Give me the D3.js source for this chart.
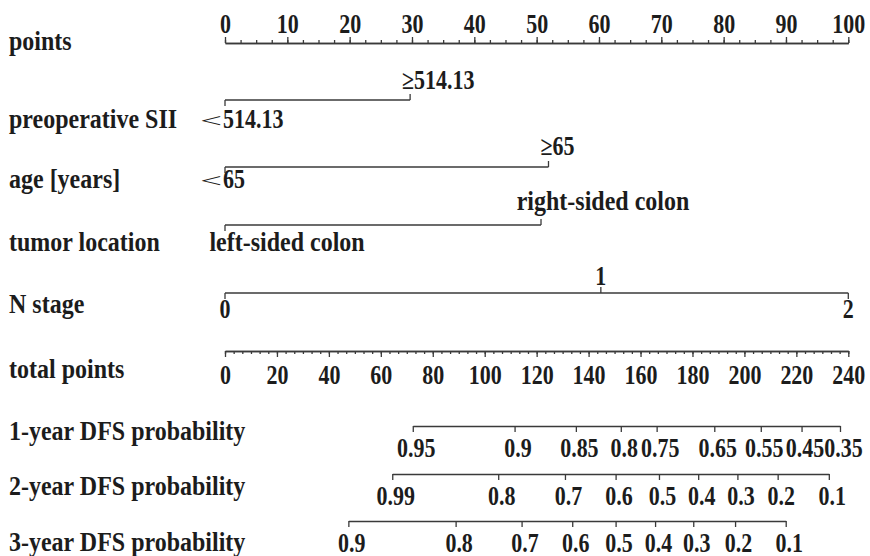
<!DOCTYPE html>
<html>
<head>
<meta charset="utf-8">
<script src="https://cdn.jsdelivr.net/npm/d3@7"></script>
<style>
  html, body { margin: 0; padding: 0; background: #fff; }
  svg text { font-family: "Liberation Serif", "Times New Roman", serif; font-weight: bold; fill: #1c1c1c; }
</style>
</head>
<body>
<svg id="chart" width="870" height="556"></svg>
<script>
// ---- nomogram data ----
const rowLabels = ["points", "preoperative SII", "age [years]", "tumor location", "N stage",
                   "total points", "1-year DFS probability", "2-year DFS probability", "3-year DFS probability"];

const pointsTicks = d3.range(0, 101, 10);
const pointsMinor = d3.range(0, 100.01, 2.5);
const totalTicks = d3.range(0, 241, 20);
const totalMinor = d3.range(0, 240.01, 20 / 6);

const siiLevels = ["<514.13", "≥514.13"];
const siiPoints = [0, 29.7];
const ageLevels = ["<65", "≥65"];
const agePoints = [0, 51.9];
const locLevels = ["left-sided colon", "right-sided colon"];
const locPoints = [0, 50.7];
const nLevels = ["0", "1", "2"];
const nPoints = [0, 60.3, 100];

const dfs1Probs = ["0.95", "0.9", "0.85", "0.8", "0.75", "0.65", "0.55", "0.45", "0.35"];
const dfs1Total = [72.3, 111.5, 135.1, 152.4, 166.2, 188.4, 206.3, 222.0, 236.8];
const dfs2Probs = ["0.99", "0.8", "0.7", "0.6", "0.5", "0.4", "0.3", "0.2", "0.1"];
const dfs2Total = [64.4, 105.2, 130.9, 150.4, 167.1, 182.2, 197.3, 212.8, 232.5];
const dfs3Probs = ["0.9", "0.8", "0.7", "0.6", "0.5", "0.4", "0.3", "0.2", "0.1"];
const dfs3Total = [47.5, 88.8, 114.2, 133.7, 150.4, 165.6, 180.3, 196.4, 215.9];

// ---- layout ----
const svg = d3.select("#chart");
const left = 225, right = 848.3;
const xPts = d3.scaleLinear().domain([0, 100]).range([left, right]);
const xTot = d3.scaleLinear().domain([0, 240]).range([left, right]);
const lineColor = "#3a3a3a";
const numSize = 22, wordSize = 24;
const stretch = 1.12;     // word glyphs are drawn slightly taller than wide
const numStretch = 1.2;   // numerals a little more so

// place a text element at (x, baseline) with a scale
function place(t, x, y, ky, kx = 1) {
  t.attr("x", null).attr("y", null).attr("dy", null)
    .attr("transform", `translate(${x},${y}) scale(${kx},${ky})`);
}

// row label column
const labelBaselines = [50, 128, 188, 251, 313, 378, 440, 495, 551];
svg.append("g").selectAll("text").data(rowLabels).join("text")
  .style("font-size", wordSize + "px")
  .text(d => d)
  .each(function (d, i) { place(d3.select(this), 9, labelBaselines[i], stretch); });

function styleAxis(g, baseline) {
  g.select(".domain").attr("stroke", lineColor).attr("stroke-width", 1.5);
  g.selectAll(".tick line").attr("stroke", lineColor).attr("stroke-width", 1.3);
  g.selectAll(".tick text")
    .style("font-family", "'Liberation Serif', 'Times New Roman', serif")
    .style("font-weight", "bold").style("font-size", numSize + "px").attr("fill", "#1c1c1c")
    .each(function () { place(d3.select(this), 0, baseline, numStretch); });
}

// scale axes: points (ticks and labels above) and total points (below)
function scaleAxis(y, scale, major, minor, orient, labelOffset) {
  const mk = orient === "top" ? d3.axisTop : d3.axisBottom;
  svg.append("g").attr("transform", `translate(0,${y})`)
    .call(mk(scale).tickValues(minor).tickSize(3).tickSizeOuter(0).tickFormat(""))
    .call(styleAxis, 0);
  svg.append("g").attr("transform", `translate(0,${y})`)
    .call(mk(scale).tickValues(major).tickSize(6).tickSizeOuter(0))
    .call(styleAxis, labelOffset);
}
scaleAxis(43, xPts, pointsTicks, pointsMinor, "top", -10);
scaleAxis(351, xTot, totalTicks, totalMinor, "bottom", 33);

// categorical predictor rows: labels alternate below/above, ticks point toward the label
function categoryRow(levels, pts, lineY, aboveY, belowY) {
  const g = svg.append("g");
  g.append("line")
    .attr("x1", xPts(d3.min(pts))).attr("x2", xPts(d3.max(pts)))
    .attr("y1", lineY).attr("y2", lineY)
    .attr("stroke", lineColor).attr("stroke-width", 1.5);
  levels.forEach((lab, i) => {
    const above = i % 2 === 1;
    const x = xPts(pts[i]);
    const y = above ? aboveY : belowY;
    g.append("line").attr("x1", x).attr("x2", x)
      .attr("y1", lineY).attr("y2", lineY + (above ? -6 : 6))
      .attr("stroke", lineColor).attr("stroke-width", 1.3);
    const isWord = /[a-z]/.test(lab);
    if (lab[0] === "<") {
      // a wide, light "<" sign ends at the tick, the number starts at it
      const sign = g.append("text").attr("text-anchor", "end")
        .style("font-size", numSize + "px").style("font-weight", "normal")
        .text("<");
      place(sign, x - 3, y - 1, 0.9, 1.75);
      const num = g.append("text").attr("text-anchor", "start")
        .style("font-size", numSize + "px").text(lab.slice(1));
      place(num, x - 2, y, numStretch);
      return;
    }
    const t = g.append("text")
      .style("font-size", (isWord ? wordSize : numSize) + "px")
      .text(lab);
    if (lab[0] === "≥") {
      t.attr("text-anchor", "start");
      const w = t.node().getSubStringLength(0, 1);
      place(t, x - w + 4, y, numStretch);
    } else if (!isWord) {
      t.attr("text-anchor", "middle");
      place(t, x, y, numStretch);
    } else {
      t.attr("text-anchor", "middle");
      place(t, x + 62, y, stretch);
    }
  });
}
categoryRow(siiLevels, siiPoints, 100, 89, 128);
categoryRow(ageLevels, agePoints, 167, 155, 188);
categoryRow(locLevels, locPoints, 225, 210, 251);
categoryRow(nLevels, nPoints, 293, 285, 318);

// probability rows, placed on the total-points scale
function probRow(probs, totals, y) {
  const ext = d3.extent(totals);
  const s = d3.scaleLinear().domain(ext).range(ext.map(xTot));
  const g = svg.append("g").attr("transform", `translate(0,${y})`)
    .call(d3.axisBottom(s).tickValues(totals).tickSize(6).tickSizeOuter(0)
      .tickFormat((d, i) => probs[i]))
    .call(styleAxis, 31);
  g.selectAll(".tick text").attr("dx", 3);
}
probRow(dfs1Probs, dfs1Total, 426);
probRow(dfs2Probs, dfs2Total, 474);
probRow(dfs3Probs, dfs3Total, 521);
</script>
</body>
</html>
